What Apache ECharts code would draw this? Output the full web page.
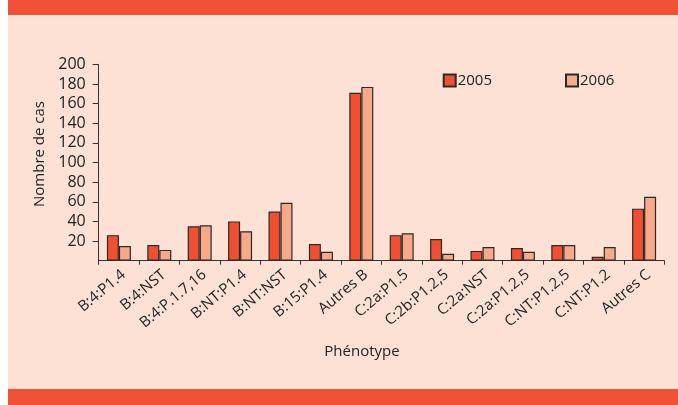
<!DOCTYPE html>
<html><head><meta charset="utf-8">
<script src="https://cdn.jsdelivr.net/npm/echarts@6/dist/echarts.min.js"></script>
<style>html,body{margin:0;padding:0;background:#fff}#c{width:678px;height:405px}</style>
</head><body><div id="c"></div>
<script>
var categories = ['B:4:P1.4','B:4:NST','B:4:P.1.7,16','B:NT:P1.4','B:NT:NST','B:15:P1.4','Autres B','C:2a:P1.5','C:2b:P1.2,5','C:2a:NST','C:2a:P1.2,5','C:NT:P1.2,5','C:NT:P1.2','Autres C'];
var values2005 = [26,16,35,40,50,17,171,26,22,10,13,16,4,53];
var values2006 = [15,11,36,30,59,9,177,28,7,14,9,16,14,65];
var seriesNames = ['2005','2006'];
var yTicks = {min:0, max:200, step:20};

var FONT = 'Open Sans';
var chart = echarts.init(document.getElementById('c'), null, {renderer:'canvas'});
chart.setOption({
  backgroundColor:'#ffffff',
  animation:false,
  textStyle:{fontFamily:FONT},
  graphic:[
    {type:'rect', z:-10, silent:true, shape:{x:8,y:0,width:670,height:405}, style:{fill:'#FDE1D5'}},
    {type:'rect', z:-9, silent:true, shape:{x:8,y:0,width:670,height:15}, style:{fill:'#F05033'}},
    {type:'rect', z:-9, silent:true, shape:{x:8,y:389,width:670,height:16}, style:{fill:'#F05033'}}
  ],
  grid:{left:98.7, right:13.7, top:64.3, bottom:144.3, containLabel:false},
  legend:{
    data:seriesNames, left:442.7, top:73, padding:0, itemWidth:12, itemHeight:12, itemGap:73,
    icon:'rect',
    textStyle:{fontFamily:FONT, fontSize:15, color:'#222', padding:[0,0,0,-3]}
  },
  xAxis:{
    type:'category', data:categories,
    name:'Phénotype', nameLocation:'middle', nameGap:84,
    nameTextStyle:{fontFamily:FONT, fontSize:15, color:'#222', padding:[0,39,0,0]},
    axisLine:{lineStyle:{color:'#333', width:1}},
    axisTick:{show:true, length:4, alignWithLabel:false, lineStyle:{color:'#333'}},
    axisLabel:{rotate:40, fontFamily:FONT, fontSize:15, color:'#222', margin:16, interval:0, padding:[0,-6,0,0]}
  },
  yAxis:{
    type:'value', min:yTicks.min, max:yTicks.max, interval:yTicks.step,
    name:'Nombre de cas', nameLocation:'middle', nameGap:46, nameRotate:90,
    nameTextStyle:{fontFamily:FONT, fontSize:15, color:'#222', padding:[0,0,0,17]},
    splitLine:{show:false},
    axisLine:{show:true, lineStyle:{color:'#333', width:1}},
    axisTick:{show:true, length:6, lineStyle:{color:'#333'}},
    axisLabel:{fontFamily:FONT, fontSize:16, color:'#222', margin:13, showMinLabel:false,
      formatter:function(v){return v===0?'':String(v);}}
  },
  series:[
    {name:seriesNames[0], type:'bar', data:values2005, barWidth:12, barGap:'0%',
     itemStyle:{color:'#F04F32', borderColor:'#2a2a2a', borderWidth:1.2}},
    {name:seriesNames[1], type:'bar', data:values2006, barWidth:12, barGap:'0%',
     itemStyle:{color:'#F8A98A', borderColor:'#2a2a2a', borderWidth:1.2}}
  ]
});
</script></body></html>
